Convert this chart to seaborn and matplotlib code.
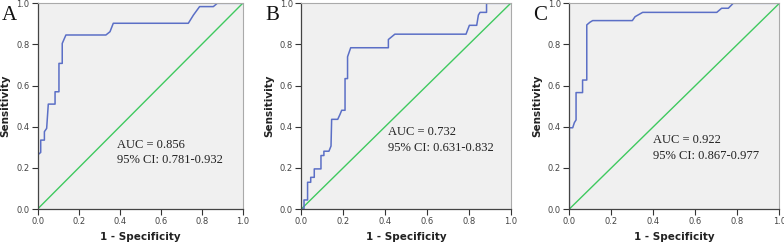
import numpy as np
import pandas as pd
import matplotlib
matplotlib.use("Agg")
import matplotlib.pyplot as plt
import seaborn as sns

# ROC curve points (1 - specificity, sensitivity)
fpr_a = [0.0, 0.0, 0.015, 0.015, 0.033, 0.033, 0.044, 0.052, 0.085, 0.085, 0.104, 0.104,
         0.120, 0.120, 0.138, 0.333, 0.353, 0.369, 0.735, 0.760, 0.790, 0.857, 0.876, 1.0]
tpr_a = [0.0, 0.263, 0.275, 0.335, 0.335, 0.376, 0.392, 0.510, 0.510, 0.570, 0.570, 0.708,
         0.708, 0.805, 0.846, 0.846, 0.862, 0.903, 0.903, 0.943, 0.984, 0.984, 1.0, 1.0]

fpr_b = [0.0, 0.013, 0.013, 0.030, 0.030, 0.045, 0.045, 0.062, 0.062, 0.094, 0.094, 0.108,
         0.108, 0.132, 0.142, 0.145, 0.174, 0.185, 0.193, 0.209, 0.209, 0.221, 0.221, 0.236,
         0.416, 0.416, 0.447, 0.787, 0.803, 0.838, 0.846, 0.854, 0.885, 0.885, 1.0]
tpr_b = [0.0, 0.0, 0.044, 0.044, 0.130, 0.130, 0.154, 0.154, 0.195, 0.195, 0.260, 0.260,
         0.281, 0.281, 0.306, 0.436, 0.436, 0.460, 0.480, 0.480, 0.634, 0.634, 0.740, 0.784,
         0.784, 0.824, 0.850, 0.850, 0.893, 0.893, 0.943, 0.956, 0.956, 1.0, 1.0]

fpr_c = [0.0, 0.0, 0.016, 0.024, 0.032, 0.032, 0.063, 0.063, 0.083, 0.083, 0.098, 0.111,
         0.300, 0.313, 0.349, 0.702, 0.725, 0.757, 0.780, 1.0]
tpr_c = [0.0, 0.395, 0.395, 0.420, 0.433, 0.566, 0.566, 0.627, 0.627, 0.895, 0.908, 0.916,
         0.916, 0.935, 0.956, 0.956, 0.976, 0.976, 1.0, 1.0]

panel_labels = ["A", "B", "C"]
auc_text = ["AUC = 0.856", "AUC = 0.732", "AUC = 0.922"]
ci_text = ["95% CI: 0.781-0.932", "95% CI: 0.631-0.832", "95% CI: 0.867-0.977"]
text_pos = [(0.389, 0.311, 0.238), (0.416, 0.374, 0.296), (0.397, 0.335, 0.259)]
ticks = [0.0, 0.2, 0.4, 0.6, 0.8, 1.0]

curves = [(fpr_a, tpr_a), (fpr_b, tpr_b), (fpr_c, tpr_c)]

sns.set_style("white")
plt.rcParams["font.family"] = ["DejaVu Sans"]

fig = plt.figure(figsize=(7.84, 2.44), dpi=100)
axes_rects = [
    (0.048, 0.1434, 0.2615, 0.843),
    (0.3843, 0.1434, 0.2670, 0.843),
    (0.7262, 0.1434, 0.2679, 0.843),
]
label_x = [0.002, 0.338, 0.680]

blue = "#5b6fc6"
green = "#3fc95f"

for i, (fpr, tpr) in enumerate(curves):
    ax = fig.add_axes(axes_rects[i])
    ax.set_facecolor("#f0f0f0")
    df = pd.DataFrame({"fpr": fpr, "tpr": tpr})
    ref = pd.DataFrame({"fpr": [0.0, 1.0], "tpr": [0.0, 1.0]})
    sns.lineplot(data=ref, x="fpr", y="tpr", color=green, lw=1.0, ax=ax,
                 sort=False, estimator=None)
    sns.lineplot(data=df, x="fpr", y="tpr", color=blue, lw=1.1, ax=ax,
                 sort=False, estimator=None)
    ax.set_xlim(0, 1)
    ax.set_ylim(0, 1)
    ax.set_xticks(ticks)
    ax.set_yticks(ticks)
    ax.set_xticklabels([f"{t:.1f}" for t in ticks])
    ax.set_yticklabels([f"{t:.1f}" for t in ticks])
    ax.tick_params(axis="both", direction="out", length=4, width=0.8,
                   color="#333333", labelsize=6, labelcolor="#444444", pad=2,
                   bottom=True, left=True)
    for side in ["left", "bottom"]:
        ax.spines[side].set_color("#444444")
        ax.spines[side].set_linewidth(0.9)
    for side in ["top", "right"]:
        ax.spines[side].set_color("#aaaaaa")
        ax.spines[side].set_linewidth(0.8)
    ax.set_xlabel("1 - Specificity", fontsize=7.5, fontweight="bold", color="#222222",
                  labelpad=4)
    ax.set_ylabel("Sensitivity", fontsize=7.5, fontweight="bold", color="#222222",
                  labelpad=4)

    tx, ty1, ty2 = text_pos[i]
    ax.text(tx, ty1, auc_text[i], fontsize=9, family=["Liberation Serif"],
            va="center", ha="left", color="#222222")
    ax.text(tx, ty2, ci_text[i], fontsize=9, family=["Liberation Serif"],
            va="center", ha="left", color="#222222")

    fig.text(label_x[i], 0.935, panel_labels[i], fontsize=15,
             family=["Liberation Serif"], va="center", ha="left", color="#111111")

fig.savefig("out.png", dpi=100)
